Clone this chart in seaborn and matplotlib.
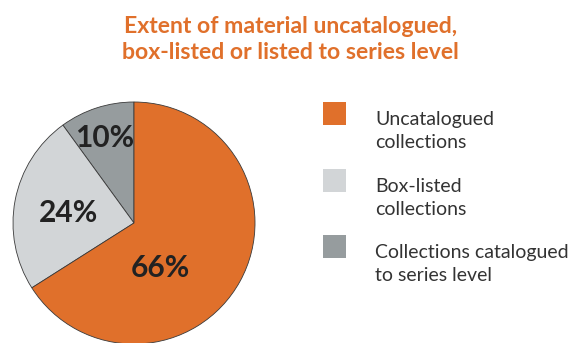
import matplotlib
matplotlib.use("Agg")
import matplotlib.pyplot as plt
from matplotlib.patches import Rectangle
import seaborn as sns

categories = ["Collections catalogued\nto series level", "Box-listed\ncollections", "Uncatalogued\ncollections"]
values = [10, 24, 66]
labels = ["10%", "24%", "66%"]
colors = ["#969C9E", "#D2D5D7", "#E0702B"]
legend_order = [2, 1, 0]
title = "Extent of material uncatalogued,\nbox-listed or listed to series level"

sns.set_theme(style="white")
plt.rcParams['font.family'] = ['Lato', 'DejaVu Sans']

W, H = 581, 343
fig = plt.figure(figsize=(W / 100, H / 100), dpi=100)
cx, cy, r = 134, 223, 121
ax = fig.add_axes([(cx - r) / W, (H - cy - r) / H, 2 * r / W, 2 * r / H])
wedges, _ = ax.pie(values, colors=colors, startangle=90, counterclock=True,
                   wedgeprops=dict(edgecolor="#3a3a3a", linewidth=0.6))
ax.set_xlim(-1, 1)
ax.set_ylim(-1, 1)
ax.set_aspect("equal")
ax.axis("off")

# label positions (relative to radius)
label_pos = [(-0.24, 0.70), (-0.545, 0.08), (0.215, -0.375)]
for lab, (x, y) in zip(labels, label_pos):
    ax.text(x, y, lab, ha="center", va="center", fontsize=21.5, fontweight="bold",
            color="#222222")

fig.text(0.5, 1 - 16 / H, title, ha="center", va="top", fontsize=16.6,
         fontweight="bold", color="#E0702B", linespacing=1.3)

# legend
sq = 23
x0, tops = 323, [102, 169, 235]
for i, top in zip(legend_order, tops):
    fig.patches.append(Rectangle((x0 / W, 1 - (top + sq) / H), sq / W, sq / H,
                                 transform=fig.transFigure, facecolor=wedges[i].get_facecolor(),
                                 edgecolor="none"))
    fig.text(375 / W, 1 - (top + 9) / H, categories[i], ha="left", va="top",
             fontsize=14, color="#333333", linespacing=1.45)

fig.savefig("out.png", dpi=100)
